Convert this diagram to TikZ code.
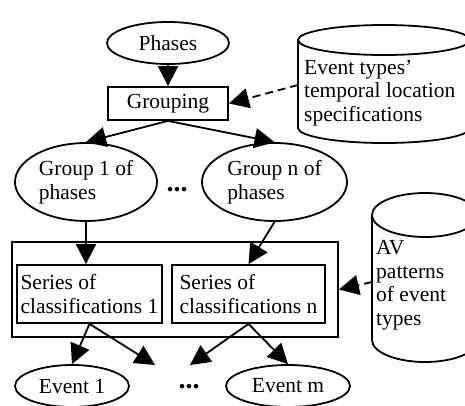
\documentclass[tikz,border=0pt]{standalone}
\usepackage{fontspec}
\setmainfont{Liberation Serif}
\usetikzlibrary{shapes.geometric,arrows.meta}

\tikzset{
  base/.style={line width=1.8pt},
  arr/.style={base, -{Triangle[length=20pt,width=20pt]}},
  darr/.style={arr, dash pattern=on 8pt off 5pt},
  oval/.style={base, draw, ellipse, inner sep=0pt, align=left},
  box/.style={base, draw, rectangle, inner sep=0pt, align=left},
  label/.style={inner sep=0pt, align=left, anchor=west},
  dots/.style={inner sep=0pt, font=\fontsize{28}{30}\selectfont\bfseries}
}

\begin{document}
\begin{tikzpicture}[x=1pt, y=-1pt, font=\fontsize{21.5}{23.5}\selectfont]
\useasboundingbox (0,0) rectangle (465,405);

% upper store: event types' temporal location specifications
\draw[base] (298,40) -- (298,128) arc[start angle=180, end angle=0, x radius=86, y radius=15] -- (470,40);
\draw[base] (384,40) ellipse[x radius=86, y radius=15];
\node[label] (spec) at (304,93) {Event types'\\temporal location\\specifications};
\coordinate (specout) at (298,85);

% lower store: AV patterns of event types
\draw[base] (372,215) -- (372,340) arc[start angle=180, end angle=0, x radius=53, y radius=22] -- (478,215);
\draw[base] (425,215) ellipse[x radius=53, y radius=22];
\node[label] (avp) at (376,285) {AV\\patterns\\of event\\types};
\coordinate (avout) at (372,282);

% main flow
\node[oval, minimum width=122pt, minimum height=42pt] (phases) at (168,43) {Phases};
\node[box, minimum width=120pt, minimum height=33pt] (grouping) at (168,103.5) {Grouping};

\node[oval, minimum width=142pt, minimum height=78pt] (g1) at (86,182) {Group 1 of\\phases};
\node[oval, minimum width=145pt, minimum height=78pt] (gn) at (274.5,182) {Group n of\\phases};
\node[dots] (gdots) at (177,190) {...};

\node[box, minimum width=326pt, minimum height=95pt] (outer) at (175,289.5) {};
\node[box, minimum width=145pt, minimum height=58pt] (s1) at (89.5,294) {Series of\\classifications 1};
\node[box, minimum width=153pt, minimum height=58pt] (sn) at (248.5,294) {Series of\\classifications n};

\node[oval, minimum width=114pt, minimum height=42pt] (e1) at (72,386) {Event 1};
\node[oval, minimum width=124pt, minimum height=42pt] (em) at (288,386) {Event m};
\node[dots] (edots) at (189,387) {...};
\coordinate (d1) at (155,365);
\coordinate (d2) at (190,365);

% connectors
\draw[arr] (phases.south) -- (grouping.north);
\draw[darr] (specout) -- (grouping.east);
\draw[arr] (grouping.south) -- (g1.north);
\draw[arr] (grouping.south) -- (gn.north);
\draw[arr] (g1.south) -- (g1.south |- s1.north);
\draw[arr] (gn.south) -- (sn.north);
\draw[darr] (avout) -- (outer.east);
\draw[arr] (s1.south) -- (e1.north);
\draw[arr] (s1.south) -- (d1);
\draw[arr] (sn.south) -- (d2);
\draw[arr] (sn.south) -- (em.north);
\end{tikzpicture}
\end{document}
